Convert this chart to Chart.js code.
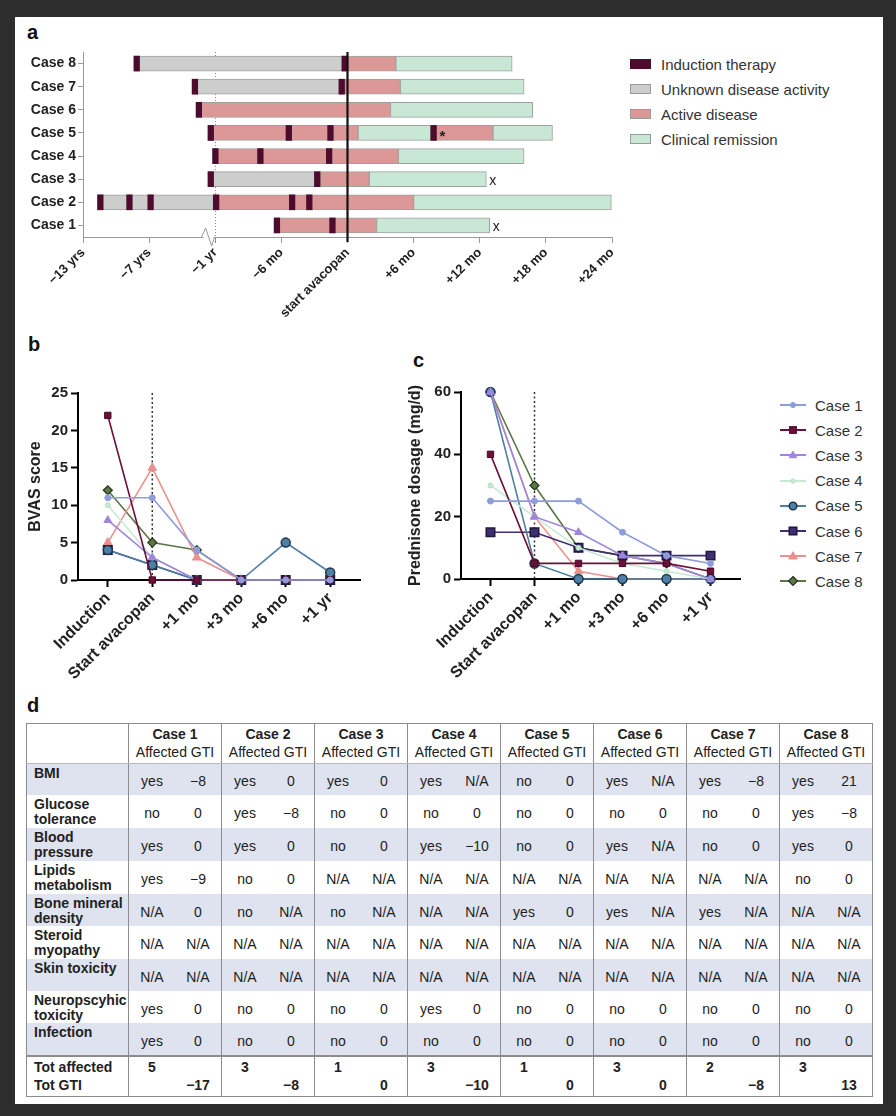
<!DOCTYPE html>
<html>
<head>
<meta charset="utf-8">
<script src="https://cdn.jsdelivr.net/npm/chart.js@4.4.1/dist/chart.umd.min.js"></script>
<style>
html,body{margin:0;padding:0;}
body{width:896px;height:1116px;background:#2d2d2d;position:relative;overflow:hidden;font-family:'Liberation Sans',Arial,Helvetica,sans-serif;color:#222;}
#sheet{position:absolute;left:15px;top:17px;width:868px;height:1087px;background:#fff;}
.pl{position:absolute;font-weight:bold;font-size:20px;line-height:20px;color:#111;}
.box{position:absolute;}
.lgA{position:absolute;left:630px;top:51.5px;}
.lgA .it{height:25px;display:flex;align-items:center;font-size:15px;color:#333;white-space:nowrap;}
.lgA .sw{width:21px;height:10px;border:1px solid #9a9a9a;margin-right:10px;box-sizing:border-box;}
.lgC{position:absolute;left:780px;top:392.5px;}
.lgC .it{height:25.2px;display:flex;align-items:center;font-size:15px;color:#333;white-space:nowrap;}
.lgC svg{margin-right:9px;}
table{position:absolute;left:26px;top:723px;border-collapse:collapse;table-layout:fixed;font-size:14px;color:#222;border:1.5px solid #8c8c8c;width:846px;}
td{padding:0;text-align:center;vertical-align:middle;white-space:nowrap;overflow:hidden;}
td.sep{border-right:1.5px solid #8c8c8c;}
tr.head td{height:38px;line-height:18px;vertical-align:top;padding-top:1px;border-bottom:1px solid #b8b8b8;}
td.lab{text-align:left;vertical-align:top;font-weight:bold;padding:2px 0 0 7px;line-height:15px;white-space:normal;}
td.val{padding-top:3px;}
tr.shade td{background:#dfe3ef;}
tr.tot td{border-top:2px solid #8c8c8c;height:38px;line-height:18px;vertical-align:top;padding-top:1px;font-weight:bold;}
</style>
</head>
<body>
<div id="sheet"></div>
<div class="pl" style="left:27px;top:22px;">a</div>
<div class="pl" style="left:28px;top:334px;">b</div>
<div class="pl" style="left:413px;top:350px;">c</div>
<div class="pl" style="left:27px;top:695px;">d</div>

<div class="box" style="left:20px;top:40px;"><canvas id="cA" width="610" height="300"></canvas></div>
<div class="lgA" id="lgA"></div>
<div class="box" style="left:20px;top:375px;"><canvas id="cB" width="380" height="310"></canvas></div>
<div class="box" style="left:400px;top:375px;"><canvas id="cC" width="370" height="310"></canvas></div>
<div class="lgC" id="lgC"></div>
<table id="tbl"></table>

<script>
// ================= DATA =================
// ---- panel a: timeline (axis units: one tick interval; 0 = start avacopan) ----
const timelineCases = ['Case 8','Case 7','Case 6','Case 5','Case 4','Case 3','Case 2','Case 1'];
const timelineTicks = ['\u221213 yrs','\u22127 yrs','\u22121 yr','\u22126 mo','start avacopan','+6 mo','+12 mo','+18 mo','+24 mo'];
const phaseNames = {I:'Induction therapy', U:'Unknown disease activity', A:'Active disease', R:'Clinical remission'};
// [phase, start, end]
const phasesCase8 = [['U',-3.23,0],['A',0,0.73],['R',0.73,2.49]];
const phasesCase7 = [['U',-2.35,-0.035],['A',-0.035,0.80],['R',0.80,2.67]];
const phasesCase6 = [['A',-2.29,0.65],['R',0.65,2.80]];
const phasesCase5 = [['A',-2.11,0.16],['R',0.16,1.26],['A',1.26,2.20],['R',2.20,3.10]];
const phasesCase4 = [['A',-2.04,0.77],['R',0.77,2.67]];
const phasesCase3 = [['U',-2.11,-0.41],['A',-0.41,0.33],['R',0.33,2.10]];
const phasesCase2 = [['U',-3.78,-1.94],['A',-1.94,1.00],['R',1.00,3.99]];
const phasesCase1 = [['A',-1.11,0.44],['R',0.44,2.15]];
// induction therapy starts
const inductionCase8 = [-3.23,-0.085];
const inductionCase7 = [-2.35,-0.13];
const inductionCase6 = [-2.29];
const inductionCase5 = [-2.11,-0.93,-0.30,1.26];
const inductionCase4 = [-2.04,-1.36,-0.32];
const inductionCase3 = [-2.11,-0.50];
const inductionCase2 = [-3.78,-3.34,-3.02,-2.03,-0.88,-0.62];
const inductionCase1 = [-1.11,-0.27];
const timelineNotes = [['Case 5',1.345,'*'],['Case 3',2.10,'x'],['Case 1',2.15,'x']];

// ---- panels b & c ----
const timepoints = ['Induction','Start avacopan','+1 mo','+3 mo','+6 mo','+1 yr'];
const caseNames = ['Case 1','Case 2','Case 3','Case 4','Case 5','Case 6','Case 7','Case 8'];
const bvasCase1 = [11,11,4,0,0,0];
const bvasCase2 = [22,0,0,0,0,0];
const bvasCase3 = [8,3,0,0,0,0];
const bvasCase4 = [10,3,0,0,0,0];
const bvasCase5 = [4,2,0,0,5,1];
const bvasCase6 = [4,2,0,0,0,0];
const bvasCase7 = [5,15,3,0,0,0];
const bvasCase8 = [12,5,4,0,0,0];
const predCase1 = [25,25,25,15,7.5,5];
const predCase2 = [40,5,5,5,5,2.5];
const predCase3 = [60,20,15,7.5,5,0];
const predCase4 = [30,20,10,5,2.5,0];
const predCase5 = [60,5,0,0,0,0];
const predCase6 = [15,15,10,7.5,7.5,7.5];
const predCase7 = [60,20,2.5,0,0,0];
const predCase8 = [60,30,10,7.5,5,0];

// ---- panel d: table ----
const tableCases = ['Case 1','Case 2','Case 3','Case 4','Case 5','Case 6','Case 7','Case 8'];
const rowLabels = ['BMI','Glucose tolerance','Blood pressure','Lipids metabolism','Bone mineral density','Steroid myopathy','Skin toxicity','Neuropscyhic toxicity','Infection'];
const rowBMI      = ['yes','\u22128','yes','0','yes','0','yes','N/A','no','0','yes','N/A','yes','\u22128','yes','21'];
const rowGlucose  = ['no','0','yes','\u22128','no','0','no','0','no','0','no','0','no','0','yes','\u22128'];
const rowBP       = ['yes','0','yes','0','no','0','yes','\u221210','no','0','yes','N/A','no','0','yes','0'];
const rowLipids   = ['yes','\u22129','no','0','N/A','N/A','N/A','N/A','N/A','N/A','N/A','N/A','N/A','N/A','no','0'];
const rowBone     = ['N/A','0','no','N/A','no','N/A','N/A','N/A','yes','0','yes','N/A','yes','N/A','N/A','N/A'];
const rowSteroid  = ['N/A','N/A','N/A','N/A','N/A','N/A','N/A','N/A','N/A','N/A','N/A','N/A','N/A','N/A','N/A','N/A'];
const rowSkin     = ['N/A','N/A','N/A','N/A','N/A','N/A','N/A','N/A','N/A','N/A','N/A','N/A','N/A','N/A','N/A','N/A'];
const rowNeuro    = ['yes','0','no','0','no','0','yes','0','no','0','no','0','no','0','no','0'];
const rowInfection= ['yes','0','no','0','no','0','no','0','no','0','no','0','no','0','no','0'];
const totAffected = ['5','3','1','3','1','3','2','3'];
const totGTI      = ['\u221217','\u22128','0','\u221210','0','0','\u22128','13'];

// ================= STYLES =================
Chart.defaults.font.family = "'Liberation Sans', Arial, sans-serif";
Chart.defaults.color = '#222';
const phaseColor = {U:'#cdcdcd', A:'#dc9896', R:'#c8e8d5', I:'#4d0b2d'};
const INDUCTION_W = 0.085;
const caseStyles = [
 {line:'#8f9cdb', fill:'#8f9cdb', edge:'#8f9cdb', shape:'circle', r:3, bw:1},
 {line:'#6b1038', fill:'#6b1038', edge:'#4a0a26', shape:'rect', r:4.5, bw:1},
 {line:'#9e86dd', fill:'#9e86dd', edge:'#9e86dd', shape:'triangle', r:4.5, bw:1},
 {line:'#c7ead4', fill:'#c7ead4', edge:'#b6dcc4', shape:'circle', r:2.5, bw:1},
 {line:'#4f7fa3', fill:'#4f7fa3', edge:'#1e3550', shape:'circle', r:4.5, bw:1.5},
 {line:'#3e2f70', fill:'#3e2f70', edge:'#20173f', shape:'rect', r:6, bw:1.5},
 {line:'#eb918d', fill:'#eb918d', edge:'#eb918d', shape:'triangle', r:5, bw:1},
 {line:'#5d7646', fill:'#5d7646', edge:'#26331a', shape:'rectRot', r:4.5, bw:1.2}
];

// ================= PANEL A =================
const allPhases = [phasesCase8,phasesCase7,phasesCase6,phasesCase5,phasesCase4,phasesCase3,phasesCase2,phasesCase1];
const allInduction = [inductionCase8,inductionCase7,inductionCase6,inductionCase5,inductionCase4,inductionCase3,inductionCase2,inductionCase1];
const dsA = [];
const nPh = Math.max(...allPhases.map(p=>p.length));
for (let j=0;j<nPh;j++) dsA.push({
  data: allPhases.map(p=>p[j]?[p[j][1],p[j][2]]:null),
  backgroundColor: allPhases.map(p=>p[j]?phaseColor[p[j][0]]:'rgba(0,0,0,0)'),
  borderColor:'#a0a0a0', borderWidth:1, borderSkipped:false, grouped:false, barThickness:15, order:2
});
const nInd = Math.max(...allInduction.map(p=>p.length));
for (let j=0;j<nInd;j++) dsA.push({
  data: allInduction.map(p=>p[j]!==undefined?[p[j],p[j]+INDUCTION_W]:null),
  backgroundColor: phaseColor.I, borderWidth:0, borderSkipped:false, grouped:false, barThickness:15, order:1
});

const annotA = {
 id:'annotA',
 beforeDatasetsDraw(chart){
  const {ctx, chartArea:a, scales:{x}} = chart;
  const xd = Math.round(x.getPixelForValue(-2))+0.5;
  ctx.save(); ctx.strokeStyle='#8a8a8a'; ctx.lineWidth=1; ctx.setLineDash([1,2]);
  ctx.beginPath(); ctx.moveTo(xd,a.top); ctx.lineTo(xd,a.bottom+6); ctx.stroke(); ctx.restore();
 },
 afterDatasetsDraw(chart){
  const {ctx, chartArea:a, scales:{x,y}} = chart;
  ctx.save();
  const x0 = x.getPixelForValue(0);
  ctx.strokeStyle='#111'; ctx.lineWidth=2.2;
  ctx.beginPath(); ctx.moveTo(x0,a.top); ctx.lineTo(x0,a.bottom+5); ctx.stroke();
  ctx.fillStyle='#222'; ctx.textBaseline='middle'; ctx.textAlign='left';
  timelineNotes.forEach(([c,v,t])=>{
    ctx.font = t==='*' ? "bold 15px 'Liberation Sans'" : "14px 'Liberation Sans'";
    ctx.fillText(t, x.getPixelForValue(v)+3, y.getPixelForValue(c)+(t==='*'?4:2));
  });
  ctx.restore();
 },
 afterDraw(chart){
  const {ctx, chartArea:a, scales:{x}} = chart;
  const xb = x.getPixelForValue(-2.1);
  const yb = a.bottom;
  ctx.save();
  ctx.fillStyle='#fff'; ctx.fillRect(xb-5, yb-2, 10, 4);
  ctx.strokeStyle='#9a9a9a'; ctx.lineWidth=1;
  ctx.beginPath(); ctx.moveTo(xb-7,yb); ctx.lineTo(xb-3,yb-9); ctx.lineTo(xb+3,yb+9); ctx.lineTo(xb+6,yb); ctx.stroke();
  ctx.restore();
 }
};

new Chart(document.getElementById('cA'), {
 type:'bar',
 data:{labels:timelineCases, datasets:dsA},
 options:{
  indexAxis:'y', responsive:false, animation:false, devicePixelRatio:1,
  layout:{padding:{top:12,right:18,left:0,bottom:0}},
  plugins:{legend:{display:false}, tooltip:{enabled:false}},
  scales:{
   x:{type:'linear', min:-4, max:4,
      afterBuildTicks:s=>{s.ticks=timelineTicks.map((t,i)=>({value:i-4}));},
      afterFit:s=>{s.height=103;},
      ticks:{callback:v=>timelineTicks[Math.round(v)+4], minRotation:45, maxRotation:45, autoSkip:false, font:{size:13,weight:'bold'}, color:'#222', padding:2},
      grid:{drawOnChartArea:false, drawTicks:true, tickLength:6, tickColor:'#9a9a9a'},
      border:{display:true,color:'#9a9a9a',width:1}},
   y:{type:'category', afterFit:s=>{s.width=63;},
      ticks:{font:{size:14,weight:'bold'},color:'#222',padding:2},
      grid:{offset:false, drawOnChartArea:false, tickLength:5, tickColor:'#9a9a9a'},
      border:{color:'#9a9a9a',width:1}}
  }
 },
 plugins:[annotA]
});

// legend a
const lgA = document.getElementById('lgA');
['I','U','A','R'].forEach(k=>{
  const it=document.createElement('div'); it.className='it';
  const sw=document.createElement('div'); sw.className='sw'; sw.style.background=phaseColor[k];
  if(k==='I') sw.style.borderColor=phaseColor.I;
  const tx=document.createElement('span'); tx.textContent=phaseNames[k];
  it.appendChild(sw); it.appendChild(tx); lgA.appendChild(it);
});

// ================= PANELS B & C =================
function lineDatasets(series){
 return series.map((vals,i)=>{const s=caseStyles[i]; return {
   label: caseNames[i], data: vals.map((v,k)=>({x:k,y:v})),
   borderColor:s.line, backgroundColor:s.fill, pointBackgroundColor:s.fill, pointBorderColor:s.edge,
   pointStyle:s.shape, pointRadius:s.r, pointBorderWidth:s.bw, borderWidth:1.6, tension:0, clip:false };});
}
const startLine = {id:'startLine', beforeDatasetsDraw(chart){
  const {ctx,scales:{x,y}}=chart; const px=x.getPixelForValue(1);
  ctx.save(); ctx.strokeStyle='#333'; ctx.lineWidth=1.5; ctx.setLineDash([2,2.5]);
  ctx.beginPath(); ctx.moveTo(px,y.getPixelForValue(y.max)); ctx.lineTo(px,y.getPixelForValue(0)); ctx.stroke(); ctx.restore();
}};
function lineOptions(yMax, yStep, title, pad, yW, xH){ return {
 responsive:false, animation:false, devicePixelRatio:1,
 layout:{padding:pad},
 plugins:{legend:{display:false}, tooltip:{enabled:false}},
 scales:{
  x:{type:'linear', min:-0.67, max:5.67,
     afterBuildTicks:s=>{s.ticks=timepoints.map((t,i)=>({value:i}));},
     afterFit:s=>{s.height=xH;},
     ticks:{callback:v=>timepoints[Math.round(v)], minRotation:45, maxRotation:45, autoSkip:false, font:{size:16,weight:'bold'}, color:'#222', padding:2},
     grid:{drawOnChartArea:false, tickLength:7, tickColor:'#000', tickWidth:2},
     border:{color:'#000', width:2}},
  y:{min:0, max:yMax,
     afterBuildTicks:s=>{const t=[]; for(let v=0;v<=yMax;v+=yStep) t.push({value:v}); s.ticks=t;},
     afterFit:s=>{s.width=yW;},
     ticks:{font:{size:15,weight:'bold'}, color:'#222', padding:3},
     title:{display:true, text:title, font:{size:16,weight:'bold'}, color:'#222', padding:{top:0,bottom:4}},
     grid:{drawOnChartArea:false, tickLength:7, tickColor:'#000', tickWidth:2},
     border:{color:'#000',width:2}}
 }
};}

new Chart(document.getElementById('cB'), {
 type:'line',
 data:{datasets:lineDatasets([bvasCase1,bvasCase2,bvasCase3,bvasCase4,bvasCase5,bvasCase6,bvasCase7,bvasCase8])},
 options:lineOptions(25,5,'BVAS score',{top:18,right:40,left:6,bottom:0},52,105),
 plugins:[startLine]
});
new Chart(document.getElementById('cC'), {
 type:'line',
 data:{datasets:lineDatasets([predCase1,predCase2,predCase3,predCase4,predCase5,predCase6,predCase7,predCase8])},
 options:lineOptions(60,20,'Prednisone dosage (mg/d)',{top:17,right:30,left:6,bottom:0},55,106),
 plugins:[startLine]
});

// legend c
function markerSvg(s){
  const ns='http://www.w3.org/2000/svg';
  const svg=document.createElementNS(ns,'svg'); svg.setAttribute('width','26'); svg.setAttribute('height','14');
  const ln=document.createElementNS(ns,'line');
  ln.setAttribute('x1','0');ln.setAttribute('x2','26');ln.setAttribute('y1','7');ln.setAttribute('y2','7');
  ln.setAttribute('stroke',s.line);ln.setAttribute('stroke-width','2'); svg.appendChild(ln);
  let m; const r=Math.min(s.r,5);
  if(s.shape==='circle'){m=document.createElementNS(ns,'circle');m.setAttribute('cx','13');m.setAttribute('cy','7');m.setAttribute('r',String(r*0.85));}
  else if(s.shape==='rect'){const h=r*0.75;m=document.createElementNS(ns,'rect');m.setAttribute('x',String(13-h));m.setAttribute('y',String(7-h));m.setAttribute('width',String(2*h));m.setAttribute('height',String(2*h));}
  else if(s.shape==='triangle'){m=document.createElementNS(ns,'polygon');m.setAttribute('points',`${13-r*0.85},${7+r*0.6} ${13+r*0.85},${7+r*0.6} 13,${7-r*0.85}`);}
  else {m=document.createElementNS(ns,'polygon');m.setAttribute('points',`13,${7-r} ${13+r},7 13,${7+r} ${13-r},7`);}
  m.setAttribute('fill',s.fill); m.setAttribute('stroke',s.edge); m.setAttribute('stroke-width',String(s.bw));
  svg.appendChild(m); return svg;
}
const lgC=document.getElementById('lgC');
caseNames.forEach((n,i)=>{
  const it=document.createElement('div'); it.className='it';
  it.appendChild(markerSvg(caseStyles[i]));
  const tx=document.createElement('span'); tx.textContent=n; it.appendChild(tx); lgC.appendChild(it);
});

// ================= PANEL D TABLE =================
const tableRows=[rowBMI,rowGlucose,rowBP,rowLipids,rowBone,rowSteroid,rowSkin,rowNeuro,rowInfection];
const rowHeights=[31,33,33,33,32,33,32,32,32];
const tbl=document.getElementById('tbl');
let html='<colgroup><col style="width:102px">';
for(let i=0;i<16;i++) html+='<col style="width:46.5px">';
html+='</colgroup><tr class="head"><td class="sep"></td>';
tableCases.forEach(c=>{html+=`<td colspan="2" class="sep"><b>${c}</b><br>Affected GTI</td>`;});
html+='</tr>';
tableRows.forEach((r,ri)=>{
  html+=`<tr class="${ri%2===0?'shade':''}" style="height:${rowHeights[ri]}px"><td class="lab sep" style="height:${rowHeights[ri]-2}px">${rowLabels[ri]}</td>`;
  for(let c=0;c<8;c++){ html+=`<td class="val">${r[2*c]}</td><td class="val sep">${r[2*c+1]}</td>`; }
  html+='</tr>';
});
html+='<tr class="tot"><td class="lab sep" style="line-height:18px;padding-top:1px">Tot affected<br>Tot GTI</td>';
for(let c=0;c<8;c++){ html+=`<td>${totAffected[c]}<br>&nbsp;</td><td class="sep">&nbsp;<br>${totGTI[c]}</td>`; }
html+='</tr>';
tbl.innerHTML=html;
</script>
</body>
</html>
